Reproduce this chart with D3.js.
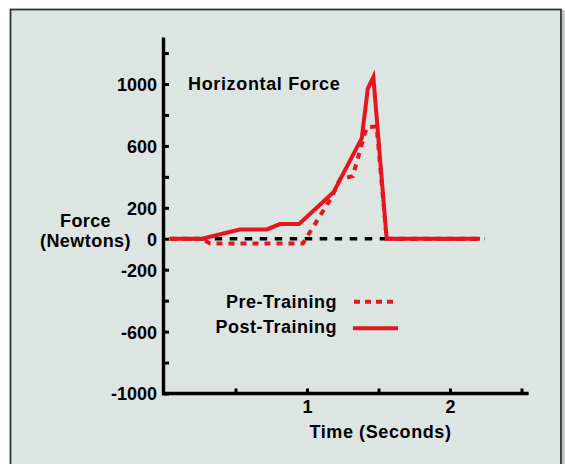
<!DOCTYPE html>
<html>
<head>
<meta charset="utf-8">
<script src="https://cdn.jsdelivr.net/npm/d3@7"></script>
<style>
  html, body { margin: 0; padding: 0; background: #ffffff; }
  svg { display: block; }
  text { font-family: "Liberation Sans", Arial, Helvetica, sans-serif; font-weight: bold; fill: #000; }
</style>
</head>
<body>
<svg id="chart" width="565" height="464"></svg>
<script>
// ---- data ----
const postTime  = [0.04, 0.265, 0.53, 0.72, 0.81, 0.945, 1.185, 1.383, 1.425, 1.464, 1.557, 2.21];
const postForce = [0,    0,     60,   60,   95,   95,    300,   650,   970,   1045,  0,     0];
const preTime   = [0.04, 0.265, 0.322, 0.972, 1.173, 1.231, 1.32, 1.417, 1.487, 1.557, 2.21];
const preForce  = [0,    0,     -30,   -30,   270,   385,   405,  720,   725,   0,     0];
const zeroTime  = [0.04, 2.245];
const zeroForce = [0, 0];
const yTicksAll     = [-1000, -800, -600, -400, -200, 0, 200, 400, 600, 800, 1000, 1200];
const yTickLabels   = [-1000, -600, -200, 0, 200, 600, 1000];
const xTicksAll     = [0.5, 1, 1.5, 2, 2.5];
const xTickLabels   = [1, 2];
const seriesNames   = ["Pre-Training", "Post-Training"];
const titleText     = "Horizontal Force";
const yTitle        = ["Force", "(Newtons)"];
const xTitle        = "Time (Seconds)";

// ---- layout ----
const svg = d3.select("#chart");
const RED = "#e5161e";
const BG = "#dde5e3";
const FONT = "'Liberation Sans', Arial, Helvetica, sans-serif";
const plain = d => String(d);   // keep ASCII hyphen-minus as in the reference

// frame
svg.append("rect").attr("x", 561).attr("y", 10).attr("width", 4).attr("height", 454).attr("fill", "#c6c9c8");
svg.append("rect").attr("x", 10.5).attr("y", 9.5).attr("width", 550.5).attr("height", 470)
  .attr("fill", BG).attr("stroke", "#333").attr("stroke-width", 1.8);

const x = d3.scaleLinear().domain([0, 2.55]).range([164, 164 + 2.55 * 143]);
const y = d3.scaleLinear().domain([-1000, 1300]).range([393.5, 393.5 - 2300 * 0.15475]);

const line = d3.line().x(d => x(d[0])).y(d => y(d[1])).curve(d3.curveLinear);
const zip = (a, b) => a.map((v, i) => [v, b[i]]);

// zero reference line
svg.append("path").datum(zip(zeroTime, zeroForce)).attr("d", line)
  .attr("fill", "none").attr("stroke", "#000").attr("stroke-width", 3.6)
  .attr("stroke-dasharray", "7.5,7.5");

// pre-training (dotted)
svg.append("path").datum(zip(preTime, preForce)).attr("d", line)
  .attr("fill", "none").attr("stroke", RED).attr("stroke-width", 4)
  .attr("stroke-dasharray", "6,6").attr("stroke-linejoin", "miter");

// post-training (solid)
svg.append("path").datum(zip(postTime, postForce)).attr("d", line)
  .attr("fill", "none").attr("stroke", RED).attr("stroke-width", 4)
  .attr("stroke-linejoin", "miter").attr("stroke-miterlimit", 10);

// y axis: ticks on the right of the line
const yAxisG = svg.append("g").attr("transform", "translate(163.5,0)")
  .call(d3.axisRight(y).tickValues(yTicksAll).tickSize(5.5).tickSizeOuter(0).tickFormat(""));
yAxisG.select(".domain").attr("stroke", "#000").attr("stroke-width", 3.4)
  .attr("d", `M0,${y(-1000) + 1.7}V${y(1300)}`);
yAxisG.selectAll(".tick line").attr("stroke", "#000").attr("stroke-width", 3);

// y labels on the left
const yLab = svg.append("g").attr("transform", "translate(163.5,0)")
  .call(d3.axisLeft(y).tickValues(yTickLabels).tickSize(0).tickPadding(6.5).tickFormat(plain));
yLab.select(".domain").remove();
yLab.selectAll("text").attr("font-size", 18).attr("dy", "0.36em")
  .attr("font-family", FONT).attr("font-weight", "bold").attr("fill", "#000");

// x axis: ticks pointing up
const xAxisG = svg.append("g").attr("transform", `translate(0,${y(-1000)})`)
  .call(d3.axisBottom(x).tickValues(xTicksAll).tickSize(-5).tickSizeOuter(0).tickFormat(""));
xAxisG.select(".domain").attr("stroke", "#000").attr("stroke-width", 3.4)
  .attr("d", `M${x(0) - 1.7},0H${x(2.55)}`);
xAxisG.selectAll(".tick line").attr("stroke", "#000").attr("stroke-width", 3);

const xLab = svg.append("g").attr("transform", `translate(0,${y(-1000)})`)
  .call(d3.axisBottom(x).tickValues(xTickLabels).tickSize(0).tickPadding(0).tickFormat(plain));
xLab.select(".domain").remove();
xLab.selectAll("text").attr("font-size", 18).attr("dy", null).attr("y", 19)
  .attr("font-family", FONT).attr("font-weight", "bold").attr("fill", "#000");

// titles
svg.append("text").attr("x", 188).attr("y", 90).attr("font-size", 18)
  .attr("letter-spacing", "0.65px").text(titleText);
svg.append("text").attr("x", 85.5).attr("y", 227.3).attr("font-size", 18)
  .attr("text-anchor", "middle").attr("letter-spacing", "0.4px").text(yTitle[0]);
svg.append("text").attr("x", 85.5).attr("y", 246.7).attr("font-size", 18)
  .attr("text-anchor", "middle").attr("letter-spacing", "0.45px").text(yTitle[1]);
svg.append("text").attr("x", 380.5).attr("y", 438).attr("font-size", 18)
  .attr("text-anchor", "middle").attr("letter-spacing", "0.6px").text(xTitle);

// legend
const legend = [
  { name: seriesNames[0], ty: 307.7, ly: 301.7, x1: 354, x2: 395, dash: "6,5" },
  { name: seriesNames[1], ty: 332.5, ly: 328.3, x1: 353, x2: 398, dash: null }
];
legend.forEach(l => {
  svg.append("text").attr("x", 337).attr("y", l.ty).attr("font-size", 18)
    .attr("text-anchor", "end").attr("letter-spacing", "0.5px").text(l.name);
  svg.append("line").attr("x1", l.x1).attr("x2", l.x2).attr("y1", l.ly).attr("y2", l.ly)
    .attr("stroke", RED).attr("stroke-width", 4).attr("stroke-dasharray", l.dash);
});
</script>
</body>
</html>
